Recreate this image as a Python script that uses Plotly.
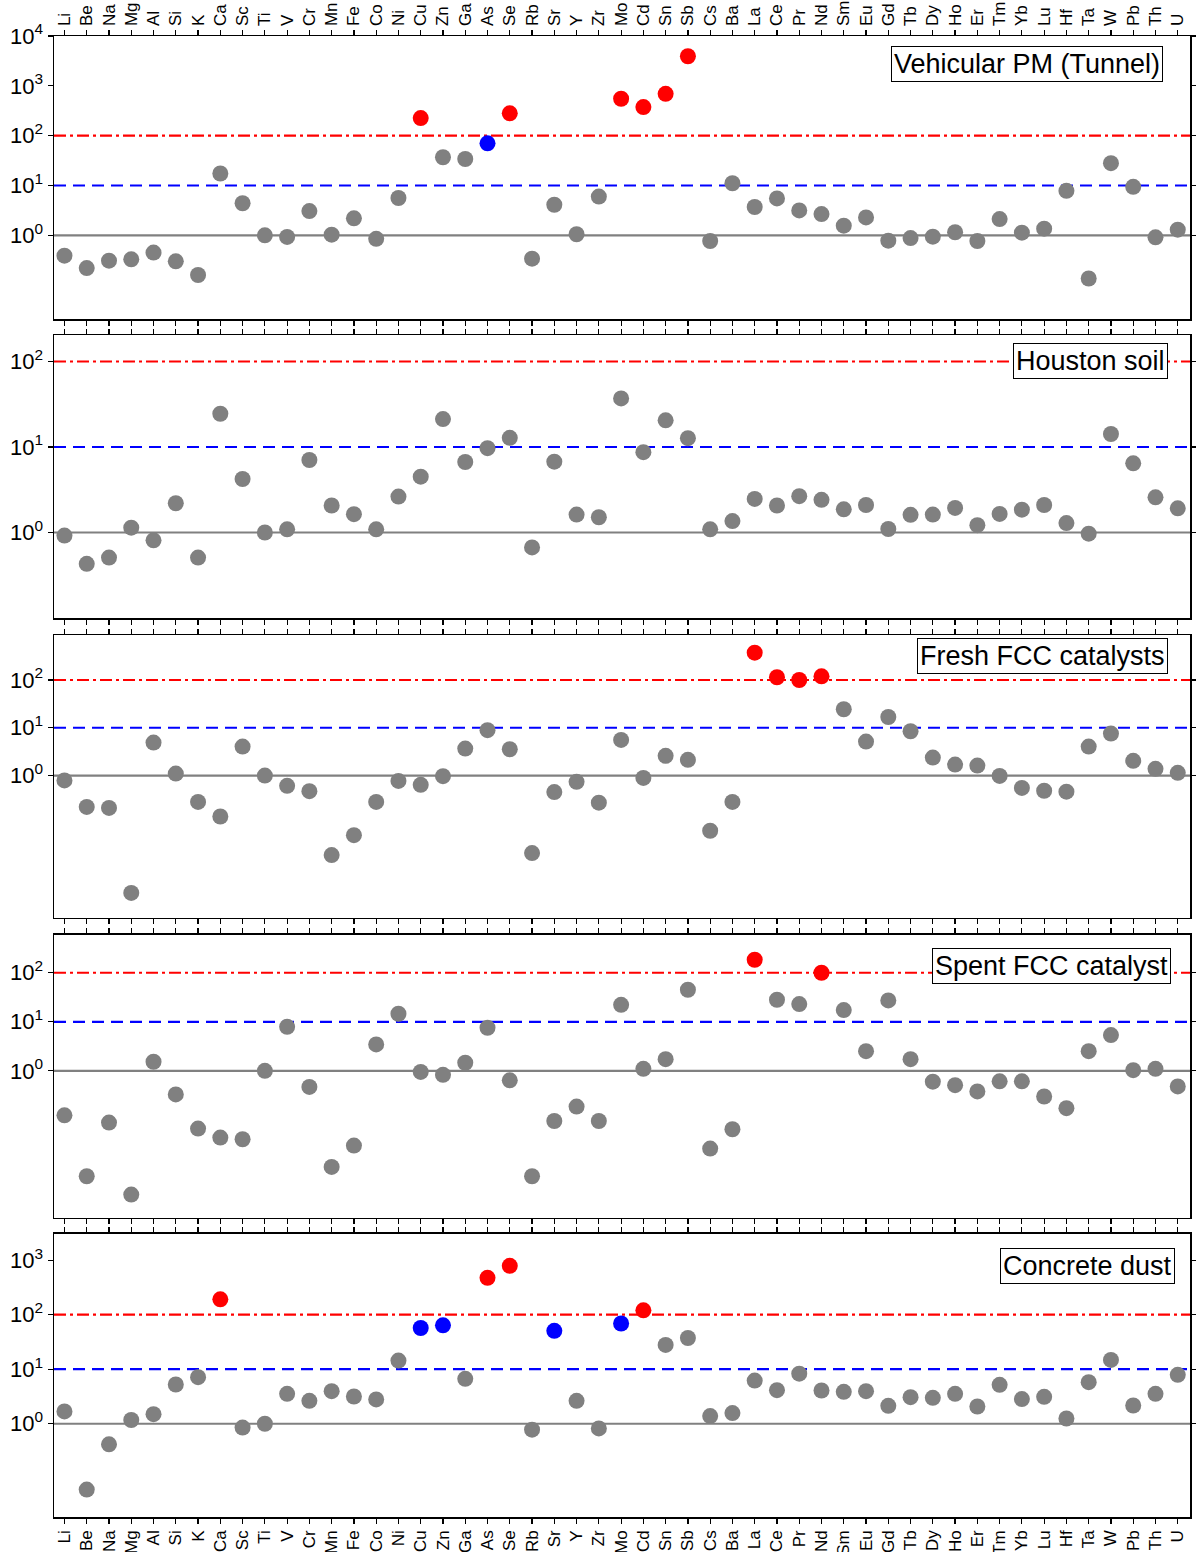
import plotly.graph_objects as go

elements = ["Li", "Be", "Na", "Mg", "Al", "Si", "K", "Ca", "Sc", "Ti", "V", "Cr", "Mn", "Fe", "Co",
            "Ni", "Cu", "Zn", "Ga", "As", "Se", "Rb", "Sr", "Y", "Zr", "Mo", "Cd", "Sn", "Sb", "Cs",
            "Ba", "La", "Ce", "Pr", "Nd", "Sm", "Eu", "Gd", "Tb", "Dy", "Ho", "Er", "Tm", "Yb", "Lu",
            "Hf", "Ta", "W", "Pb", "Th", "U"]

vehicular_pm = [0.39, 0.22, 0.31, 0.33, 0.45, 0.30, 0.16, 17.4, 4.4, 1.0, 0.93, 3.07, 1.03, 2.19, 0.85,
                5.6, 225, 36.9, 34, 70, 280, 0.34, 4.1, 1.05, 6.0, 550, 374, 692, 3920, 0.77,
                11.1, 3.7, 5.5, 3.16, 2.67, 1.56, 2.29, 0.78, 0.88, 0.94, 1.15, 0.77, 2.12, 1.13, 1.36,
                7.8, 0.136, 28, 9.4, 0.91, 1.3]

houston_soil = [0.92, 0.43, 0.51, 1.14, 0.81, 2.2, 0.51, 24.5, 4.23, 1.0, 1.09, 7.05, 2.07, 1.64, 1.09,
                2.63, 4.5, 21.2, 6.68, 9.7, 12.8, 0.67, 6.74, 1.62, 1.51, 37, 8.7, 20.5, 12.7, 1.09,
                1.36, 2.47, 2.07, 2.66, 2.41, 1.87, 2.1, 1.1, 1.61, 1.62, 1.94, 1.22, 1.65, 1.85, 2.1,
                1.29, 0.97, 14.2, 6.45, 2.58, 1.92]

fresh_fcc = [0.79, 0.22, 0.21, 0.0035, 4.9, 1.1, 0.28, 0.139, 4.04, 1.0, 0.61, 0.47, 0.0216, 0.0566, 0.28,
             0.77, 0.64, 0.97, 3.67, 8.9, 3.55, 0.0238, 0.45, 0.74, 0.27, 5.57, 0.89, 2.58, 2.13, 0.07,
             0.28, 373, 114, 100, 119, 24.4, 5.14, 16.8, 8.45, 2.38, 1.7, 1.62, 0.98, 0.55, 0.48,
             0.46, 4.04, 7.55, 2.03, 1.38, 1.14]

spent_fcc = [0.124, 0.0071, 0.088, 0.0030, 1.53, 0.33, 0.0665, 0.0436, 0.0403, 1.0, 7.9, 0.47, 0.011, 0.030, 3.45,
             14.6, 0.95, 0.83, 1.46, 7.55, 0.64, 0.0071, 0.095, 0.187, 0.095, 22.2, 1.1, 1.73, 45, 0.026,
             0.0645, 184, 28.1, 23, 100, 17.3, 2.52, 27.2, 1.73, 0.6, 0.51, 0.38, 0.61, 0.61, 0.30,
             0.173, 2.52, 5.35, 1.03, 1.1, 0.48]

concrete_dust = [1.68, 0.062, 0.42, 1.17, 1.5, 5.24, 7.14, 191, 0.85, 1.0, 3.54, 2.63, 3.96, 3.16, 2.79,
                 14.4, 57, 63.8, 6.66, 475, 788, 0.78, 50.5, 2.63, 0.82, 69, 120, 27.9, 37.4, 1.38,
                 1.57, 6.2, 4.13, 8.3, 4.07, 3.85, 3.96, 2.13, 3.07, 2.99, 3.54, 2.07, 5.17, 2.83, 3.12,
                 1.25, 5.78, 14.8, 2.16, 3.54, 7.88]

panel_names = ["Vehicular PM (Tunnel)", "Houston soil", "Fresh FCC catalysts",
               "Spent FCC catalyst", "Concrete dust"]
panel_values = [vehicular_pm, houston_soil, fresh_fcc, spent_fcc, concrete_dust]

# log10 y-ranges per panel
y_ranges = [[-1.68, 4.0], [-1.0, 2.31], [-2.98, 2.94], [-3.0, 2.77], [-1.71, 3.48]]
y_tickvals = [[1, 10, 100, 1000, 10000], [1, 10, 100], [1, 10, 100], [1, 10, 100], [1, 10, 100, 1000]]
domains = [[0.8089, 1.0], [0.607, 0.7981], [0.4045, 0.5955], [0.2019, 0.393], [0.0, 0.1911]]
label_pos = [(0.976, 0.966), (0.981, 0.972), (0.981, 0.989), (0.983, 0.954), (0.987, 0.951)]

RED_LIMIT = 100
BLUE_LIMIT = 50
GRAY = "#808080"
FONT = "Liberation Sans, Arial, sans-serif"


def color_for(v):
    if v >= RED_LIMIT:
        return "#ff0000"
    if v >= BLUE_LIMIT:
        return "#0000ff"
    return GRAY


fig = go.Figure()
layout = dict(
    width=1196, height=1552,
    margin=dict(l=54, r=6, t=36, b=35, autoexpand=False),
    plot_bgcolor="white", paper_bgcolor="white",
    showlegend=False, hovermode=False,
    font=dict(family=FONT, color="black"),
)
shapes = []
annotations = []

for i, (name, vals) in enumerate(zip(panel_names, panel_values)):
    n = i + 1
    xa = "x" if n == 1 else f"x{n}"
    ya = "y" if n == 1 else f"y{n}"
    fig.add_trace(go.Scatter(
        x=elements, y=vals, mode="markers", xaxis=xa, yaxis=ya,
        marker=dict(size=16, color=[color_for(v) for v in vals], line=dict(width=0)),
        cliponaxis=False,
    ))
    xkey = "xaxis" if n == 1 else f"xaxis{n}"
    ykey = "yaxis" if n == 1 else f"yaxis{n}"
    show_lbl = n in (1, 5)
    layout[xkey] = dict(
        domain=[0, 1], anchor=ya, type="category",
        categoryorder="array", categoryarray=elements,
        range=[-0.47, 50.55],
        side="top" if n == 1 else "bottom",
        showline=True, linecolor="black", linewidth=1.5, mirror="ticks",
        ticks="outside", ticklen=5, tickwidth=1.2, tickcolor="black",
        showticklabels=show_lbl, tickangle=-90, automargin=False,
        tickfont=dict(family=FONT, size=17, color="black"),
        showgrid=False, zeroline=False, fixedrange=True,
    )
    layout[ykey] = dict(
        domain=domains[i], anchor=xa, type="log", range=y_ranges[i],
        tickmode="array", tickvals=y_tickvals[i],
        ticktext=[f"10<sup>{len(str(t)) - 1}</sup>" for t in y_tickvals[i]],
        showline=True, linecolor="black", linewidth=1.5, mirror="ticks",
        ticks="outside", ticklen=5, tickwidth=1.2, tickcolor="black", automargin=False,
        tickfont=dict(family=FONT, size=22, color="black"),
        showgrid=False, zeroline=False, fixedrange=True,
    )
    for yv, col, dash in [(1, GRAY, "solid"), (10, "#0000ff", "12px,7px"),
                          (100, "#ff0000", "12px,4px,3px,4px")]:
        shapes.append(dict(type="line", xref=f"{xa} domain", yref=ya,
                           x0=0, x1=1, y0=yv, y1=yv, layer="below",
                           line=dict(color=col, width=2.2, dash=dash)))
    lx, ly = label_pos[i]
    annotations.append(dict(
        text=name, xref=f"{xa} domain", yref=f"{ya} domain", x=lx, y=ly,
        xanchor="right", yanchor="top", showarrow=False,
        font=dict(family=FONT, size=27, color="black"),
        bgcolor="white", bordercolor="black", borderwidth=1, borderpad=2,
    ))

layout["shapes"] = shapes
layout["annotations"] = annotations
fig.update_layout(**layout)
# remove the browser's default 8px body margin so the figure fills the window exactly
fig.write_html("out.html", config={"displayModeBar": False, "staticPlot": True},
               post_script="document.body.style.margin='0';")
